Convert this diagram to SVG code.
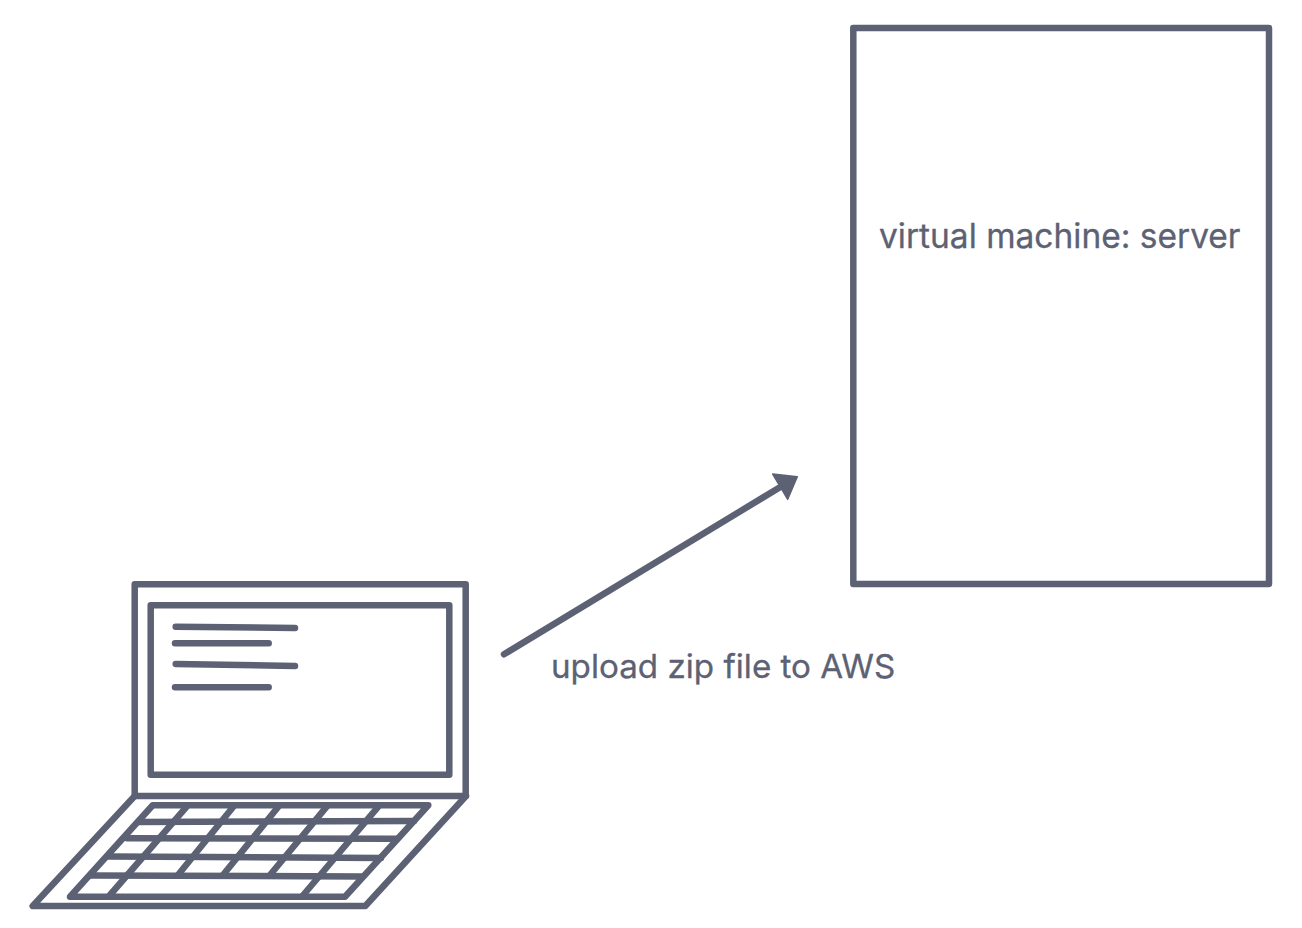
<svg xmlns="http://www.w3.org/2000/svg" width="1302" height="928" viewBox="0 0 1302 928">
  <style>
    .s { fill: none; stroke: #5c6274; stroke-width: 6.5; stroke-linecap: round; stroke-linejoin: round; }
    .t { fill: #5c6274; stroke: #5c6274; stroke-width: 0.3; font-family: "Inter", "Liberation Sans", sans-serif; font-size: 33.5px; }
  </style>
  <rect width="1302" height="928" fill="#ffffff"/>
  <g id="laptop">
    <rect class="s" x="134.7" y="584.3" width="331" height="211.7"/>
    <rect class="s" x="150.7" y="605.3" width="298.6" height="169.4"/>
    <path class="s" d="M175.7 626.7L295 628M175 643.3H268.7M175.7 664L295 666M175 687.3H268.7"/>
    <path class="s" d="M134.7 796L32.7 906H365.3L466 796"/>
    <path class="s" d="M152.7 805.3H428.3L345 896.7H70Z"/>
    <path class="s" d="M139 822L414 821M127 838.3L397 838.8M109 856.5L381 858M91 875.5L362 876.5"/>
    <path class="s" d="M186.7 806.7L110 895M233.3 806.7L178 875M278.3 806.7L223 875M326.7 806.7L270 875M378.3 806.7L303.3 895"/>
  </g>
  <g id="server">
    <rect class="s" x="853.3" y="28" width="415.7" height="556"/>
    <text class="t" x="879" y="248">virtual machine: server</text>
  </g>
  <g id="connectors">
    <path class="s" d="M504 654.3L782 486"/>
    <path d="M797.3 476.7L772.7 474L787.7 499.3Z" fill="#5c6274" stroke="#5c6274" stroke-width="1.5" stroke-linejoin="round"/>
  </g>
  <text id="edge-label" class="t" x="551" y="678" style="font-size:33.2px">upload zip file to AWS</text>
</svg>
